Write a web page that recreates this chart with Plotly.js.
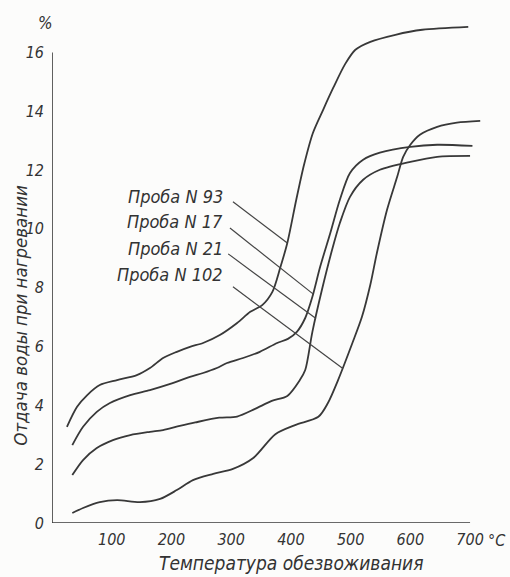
<!DOCTYPE html>
<html>
<head>
<meta charset="utf-8">
<script src="https://cdn.plot.ly/plotly-3.0.1.min.js"></script>
<style>html,body{margin:0;padding:0;background:#fcfcfb;}#chart{width:510px;height:577px;}</style>
</head>
<body>
<div id="chart"></div>
<script>
// Series: temperature (°C) and water loss (%)
const n93T = [25, 42, 59, 80, 109, 142, 164, 186, 209, 231, 253, 281, 310, 332, 352, 369, 382, 394, 409, 422, 437, 454, 471, 491, 508, 533, 575, 620, 697];
const n93V = [3.27, 3.95, 4.35, 4.69, 4.86, 5.03, 5.27, 5.61, 5.82, 5.99, 6.12, 6.39, 6.80, 7.18, 7.41, 7.86, 8.67, 9.52, 10.99, 12.18, 13.27, 14.05, 14.80, 15.61, 16.09, 16.36, 16.60, 16.77, 16.87];

const n17T = [34, 52, 75, 97, 131, 164, 198, 231, 253, 276, 293, 320, 348, 377, 395, 410, 424, 436, 449, 466, 482, 499, 521, 549, 600, 645, 704];
const n17V = [2.65, 3.27, 3.78, 4.08, 4.35, 4.52, 4.73, 4.97, 5.10, 5.27, 5.44, 5.61, 5.82, 6.12, 6.26, 6.50, 6.97, 7.69, 8.71, 9.86, 10.99, 11.90, 12.35, 12.59, 12.79, 12.86, 12.82];

const n21T = [34, 52, 75, 102, 131, 164, 186, 214, 240, 280, 310, 340, 368, 394, 415, 424, 436, 452, 469, 482, 499, 521, 549, 600, 645, 700];
const n21V = [1.63, 2.14, 2.55, 2.82, 2.99, 3.10, 3.16, 3.30, 3.42, 3.58, 3.62, 3.88, 4.15, 4.32, 4.86, 5.20, 6.50, 7.93, 9.29, 10.20, 11.09, 11.67, 12.01, 12.28, 12.45, 12.48];

const n102T = [34, 52, 80, 109, 147, 181, 209, 236, 270, 303, 337, 374, 407, 446, 462, 479, 503, 519, 533, 544, 561, 578, 588, 600, 616, 645, 678, 717];
const n102V = [0.34, 0.51, 0.71, 0.78, 0.71, 0.82, 1.12, 1.46, 1.67, 1.84, 2.21, 3.02, 3.33, 3.61, 4.08, 4.86, 6.12, 7.01, 8.10, 9.18, 10.65, 11.77, 12.45, 12.86, 13.20, 13.47, 13.61, 13.67];

// Labels and leader lines
const labels = ["Проба N 93", "Проба N 17", "Проба N 21", "Проба N 102"];
const labelT = [290, 290, 290, 290];
const labelV = [11.09, 10.24, 9.32, 8.44];
const leadStartT = [303, 298, 295, 303];
const leadStartV = [10.92, 10.03, 9.15, 8.03];
const leadEndT = [394, 437, 442, 487];
const leadEndV = [9.52, 7.79, 6.95, 5.25];

// Ticks
const xTicks = [100, 200, 300, 400, 500, 600, 700];
const xTickText = ["100", "200", "300", "400", "500", "600", "700"];
const yTicks = [0, 2, 4, 6, 8, 10, 12, 14, 16];
const yTickText = ["0", "2", "4", "6", "8", "10", "12", "14", "16"];

const xTitle = "Температура обезвоживания";
const yTitle = "Отдача воды при нагревании";

const ink = "#383838";
const fam = "DejaVu Sans Condensed, DejaVu Sans, sans-serif";
const f = (s) => ({family: fam, size: s, color: "#333", style: "italic"});

const curve = (x, y) => ({x: x, y: y, mode: "lines", type: "scatter",
  line: {color: ink, width: 1.8, shape: "spline", smoothing: 0.8}, hoverinfo: "skip"});

const traces = [curve(n93T, n93V), curve(n17T, n17V), curve(n21T, n21V), curve(n102T, n102V)];
for (let i = 0; i < labels.length; i++) {
  traces.push({x: [leadStartT[i], leadEndT[i]], y: [leadStartV[i], leadEndV[i]], mode: "lines",
    type: "scatter", line: {color: "#444", width: 1.2}, hoverinfo: "skip"});
}

const annotations = labels.map((t, i) => ({x: labelT[i], y: labelV[i], xref: "x", yref: "y",
  text: t, showarrow: false, xanchor: "right", yanchor: "middle", font: f(18)}));
annotations.push({x: 0.556, y: -0.08, xref: "paper", yref: "paper", text: xTitle, showarrow: false,
  xanchor: "center", yanchor: "middle", font: f(19)});
annotations.push({x: -0.074, y: 0.415, xref: "paper", yref: "paper", text: yTitle, showarrow: false,
  textangle: -90, xanchor: "center", yanchor: "middle", font: f(18.5)});
annotations.push({x: -0.016, y: 1.0, xref: "paper", yref: "paper", text: "%", showarrow: false,
  xanchor: "center", yanchor: "middle", font: f(17)});
annotations.push({x: 1.035, y: -0.034, xref: "paper", yref: "paper", text: "°C", showarrow: false,
  xanchor: "center", yanchor: "middle", font: f(16)});

const layout = {
  width: 510, height: 577,
  margin: {l: 52, r: 28, t: 23, b: 54},
  paper_bgcolor: "#fcfcfb", plot_bgcolor: "#fcfcfb",
  showlegend: false,
  xaxis: {range: [0, 720], showgrid: false, zeroline: false, showline: false, ticks: "",
    tickvals: xTicks, ticktext: xTickText, tickfont: f(16), ticklabelstandoff: 5},
  yaxis: {range: [0, 17], showgrid: false, zeroline: false, showline: false, ticks: "",
    tickvals: yTicks, ticktext: yTickText, tickfont: f(16), ticklabelstandoff: 7},
  shapes: [
    {type: "line", xref: "x", yref: "y", x0: 0, x1: 700, y0: 0, y1: 0, line: {color: ink, width: 1.6}},
    {type: "line", xref: "x", yref: "y", x0: 0, x1: 0, y0: 0, y1: 16, line: {color: ink, width: 1.6}}
  ],
  annotations: annotations
};

Plotly.newPlot("chart", traces, layout, {staticPlot: true, displayModeBar: false});
</script>
</body>
</html>
